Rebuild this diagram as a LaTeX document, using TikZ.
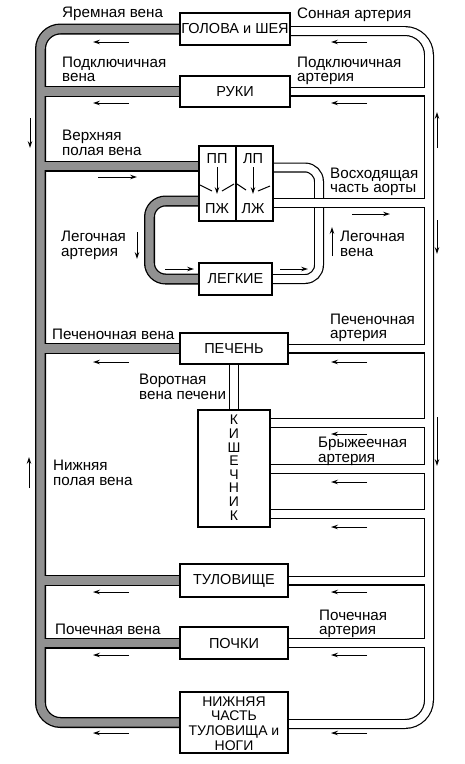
\documentclass[tikz,border=0pt]{standalone}
\usepackage{fontspec}
\setmainfont{Liberation Sans}
\usetikzlibrary{arrows.meta}
\definecolor{veingray}{RGB}{145,145,145}
\newcommand\lblfont{\fontsize{15.2}{14.6}\selectfont}
\newcommand\boxfont{\fontsize{14.5}{15}\selectfont}
\begin{document}
\begin{tikzpicture}[x=1pt,y=-1pt,
  box/.style={draw, line width=1.2pt, fill=white, inner sep=1pt, align=center, font=\boxfont},
  lbl/.style={anchor=north west, inner sep=0pt, align=left, font=\lblfont},
  veinb/.style={line width=11pt, draw=black},
  veinf/.style={line width=8.4pt, draw=veingray},
  artb/.style={line width=10pt, draw=black},
  artf/.style={line width=7.6pt, draw=white},
  arr/.style={-{Stealth[length=7pt,width=4.6pt]}, line width=1pt},
  valve/.style={line width=1pt}]
\useasboundingbox (0,0) rectangle (464,764);
\fill[white] (0,0) rectangle (464,764);

% ---- organ nodes (placed first for naming, drawn later on top)
\path
  node[box, minimum width=110pt, minimum height=32pt] (head) at (235,29) {}
  node[box, minimum width=110pt, minimum height=31pt] (arms) at (235,91.5) {}
  node[box, minimum width=74pt, minimum height=75pt] (heart) at (236,183.5) {}
  node[box, minimum width=73pt, minimum height=32pt] (lungs) at (235.5,279) {}
  node[box, minimum width=108pt, minimum height=31pt] (liver) at (234,348.5) {}
  node[box, minimum width=72pt, minimum height=117pt] (gut) at (234,468.5) {}
  node[box, minimum width=108pt, minimum height=33pt] (trunk) at (234,580.5) {}
  node[box, minimum width=108pt, minimum height=32pt] (kidney) at (234,643) {}
  node[box, minimum width=108pt, minimum height=61pt] (legs) at (234,722.5) {};
\coordinate (vc) at (40.5,0);
\coordinate (ao) at (429,0);
\coordinate (pa) at (149.5,0);
\coordinate (pv) at (319,0);
\coordinate (svc) at ([yshift=17.5pt]heart.west);
\coordinate (pulart) at ([yshift=-17.5pt]heart.west);
\coordinate (pulvein) at ([yshift=16pt]heart.east);
\coordinate (aoasc) at ([yshift=-19.5pt]heart.east);
\coordinate (headart) at ([yshift=-2pt]head.east);
\coordinate (legart) at ([yshift=-1.5pt]legs.east);
\coordinate (gut1) at ([yshift=-13.5pt]gut.north east);
\coordinate (gut2) at ([yshift=-59.5pt]gut.north east);
\coordinate (gut3) at ([yshift=-104.5pt]gut.north east);

% ---- veins (grey tubes)
\foreach \st in {veinb,veinf}{
  \draw[\st, rounded corners=20pt] (head.west) -- (vc |- head.west) -- (vc |- legs.west) -- (legs.west);
  \draw[\st] (arms.west) -- (vc |- arms.west);
  \draw[\st] (svc) -- (vc |- svc);
  \draw[\st] (liver.west) -- (vc |- liver.west);
  \draw[\st] (trunk.west) -- (vc |- trunk.west);
  \draw[\st] (kidney.west) -- (vc |- kidney.west);
  \draw[\st, rounded corners=16pt] (pulart) -- (pa |- pulart) -- (pa |- lungs.west) -- (lungs.west);
}

% ---- pulmonary vein (white tube)
\foreach \st in {artb,artf}{
  \draw[\st, rounded corners=14pt] (pulvein) -- (pv |- pulvein) -- (pv |- lungs.east) -- (lungs.east);
}

% ---- arteries (white tubes)
\foreach \st in {artb,artf}{
  \draw[\st, rounded corners=24pt] (headart) -- (ao |- headart) -- (ao |- legart) -- (legart);
  \draw[\st] (arms.east) -- (ao |- arms.east);
  \draw[\st] (aoasc) -- (ao |- aoasc);
  \draw[\st] (liver.east) -- (ao |- liver.east);
  \draw[\st] (gut1) -- (ao |- gut1);
  \draw[\st] (gut2) -- (ao |- gut2);
  \draw[\st] (gut3) -- (ao |- gut3);
  \draw[\st] (trunk.east) -- (ao |- trunk.east);
  \draw[\st] (kidney.east) -- (ao |- kidney.east);
  \draw[\st] (liver.south) -- (gut.north);
}

% ---- organ boxes on top
\node[box, minimum width=110pt, minimum height=32pt] at (head) {ГОЛОВА и ШЕЯ};
\node[box, minimum width=110pt, minimum height=31pt] at (arms) {РУКИ};
\node[box, minimum width=74pt, minimum height=75pt] at (heart) {};
\node[box, minimum width=73pt, minimum height=32pt] at (lungs) {ЛЕГКИЕ};
\node[box, minimum width=108pt, minimum height=31pt] at (liver) {ПЕЧЕНЬ};
\node[box, minimum width=72pt, minimum height=117pt] at (gut) {};
\node[anchor=north, inner sep=0pt, align=center, font=\fontsize{14}{13.6}\selectfont] (gutlbl) at (234,415) {К\\И\\Ш\\Е\\Ч\\Н\\И\\К};
\node[box, minimum width=108pt, minimum height=33pt] at (trunk) {ТУЛОВИЩЕ};
\node[box, minimum width=108pt, minimum height=32pt] at (kidney) {ПОЧКИ};
\node[box, minimum width=108pt, minimum height=61pt] at (legs) {};
\node[inner sep=0pt, align=center, font=\fontsize{14}{14.8}\selectfont] (legslbl) at ([yshift=-1pt]legs.center) {НИЖНЯЯ\\ЧАСТЬ\\ТУЛОВИЩА и\\НОГИ};

% heart interior
\draw[line width=1.2pt] (heart.north) -- (heart.south);
\node[font=\boxfont, inner sep=0pt] (ra) at (217,159) {ПП};
\node[font=\boxfont, inner sep=0pt] (la) at (253,159) {ЛП};
\node[font=\boxfont, inner sep=0pt] (rv) at (217,209) {ПЖ};
\node[font=\boxfont, inner sep=0pt] (lv) at (253,209) {ЛЖ};
\draw[arr] (217,167) -- (217,194);
\draw[arr] (253,167) -- (253,194);
\draw[valve] (200,185) -- (212,191);
\draw[valve] (222,191) -- (234,184);
\draw[valve] (237,184) -- (246,190);
\draw[valve] (258,191) -- (270,186);

% ---- labels
\node[lbl] (l1) at (62,7.3) {Яремная вена};
\node[lbl] (l2) at (297,7.3) {Сонная артерия};
\node[lbl] (l3) at (62,56.5) {Подключичная\\вена};
\node[lbl] (l4) at (297,56.5) {Подключичная\\артерия};
\node[lbl] (l5) at (62,130) {Верхняя\\полая вена};
\node[lbl] (l6) at (330,167.5) {Восходящая\\часть аорты};
\node[lbl] (l7) at (61,231) {Легочная\\артерия};
\node[lbl] (l8) at (340,231) {Легочная\\вена};
\node[lbl] (l9) at (330,313.5) {Печеночная\\артерия};
\node[lbl] (l10) at (52,328.5) {Печеночная вена};
\node[lbl] (l11) at (139,374) {Воротная\\вена печени};
\node[lbl] (l12) at (318,437) {Брыжеечная\\артерия};
\node[lbl] (l13) at (53,460) {Нижняя\\полая вена};
\node[lbl] (l14) at (319,609.5) {Почечная\\артерия};
\node[lbl] (l15) at (55,624) {Почечная вена};

% ---- flow arrows
\foreach \y in {42,103,362,592,655,733}{
  \draw[arr] (129,\y) -- (93,\y);
}
\foreach \y in {42,103,362,434,482,527,592,655,733}{
  \draw[arr] (367,\y) -- (331,\y);
}
\draw[arr] (98,177) -- (137,177);
\draw[arr] (352,214) -- (390,214);
\draw[arr] (165,269) -- (194,269);
\draw[arr] (280,269) -- (308,269);
\draw[arr] (30,118) -- (30,148);
\draw[arr] (437,220) -- (437,254);
\draw[arr] (137,232) -- (137,259);
\draw[arr] (437,417) -- (437,466);
\draw[arr] (437,148) -- (437,112);
\draw[arr] (332,256) -- (332,227);
\draw[arr] (29,488) -- (29,457);
\end{tikzpicture}
\end{document}
